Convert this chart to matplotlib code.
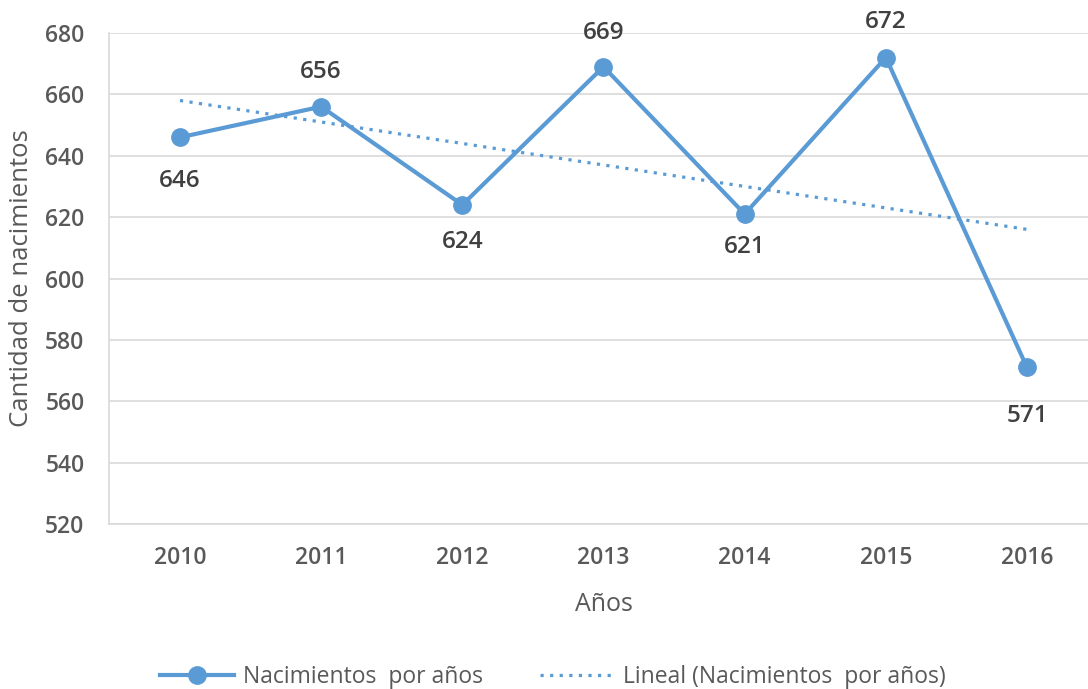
import matplotlib
matplotlib.use("Agg")
import matplotlib.pyplot as plt
import numpy as np

years = ["2010", "2011", "2012", "2013", "2014", "2015", "2016"]
births = [646, 656, 624, 669, 621, 672, 571]
yticks = [520, 540, 560, 580, 600, 620, 640, 660, 680]

# label offsets in pixels (styling): negative = below the point
label_offsets_px = [-44, 35, -37, 34, -33, 36, -49]

plt.rcParams['font.family'] = ['Open Sans', 'DejaVu Sans']

W, H = 1088, 689
DPI = 100
fig = plt.figure(figsize=(W / DPI, H / DPI), dpi=DPI)
ax = fig.add_axes([109.4 / W, 1 - 524 / H, (1097.6 - 109.4) / W, (524 - 33) / H])

color = "#5B9BD5"
x = np.arange(len(years))
ax.plot(x, births, color=color, lw=3, marker="o", ms=12.5, zorder=3,
        label="Nacimientos  por años")

# linear trend
coef = np.polyfit(x, births, 1)
ax.plot(x, np.polyval(coef, x), color=color, lw=2.3, ls=(0, (1, 2.0)), zorder=2,
        label="Lineal (Nacimientos  por años)")

px2pt = 72 / DPI
for xi, v, off in zip(x, births, label_offsets_px):
    ax.annotate(str(v), (xi, v), xytext=(0, off * px2pt), textcoords="offset points",
                ha="center", va="center", fontsize=17.5, fontweight="semibold",
                color="#404040")

ax.set_xlim(-0.5, len(years) - 0.5)
ax.set_ylim(520, 680)
ax.set_yticks(yticks)
ax.set_xticks(x)
ax.set_xticklabels(years)
ax.tick_params(axis="both", length=0, labelsize=16.5, labelcolor="#595959")
ax.tick_params(axis="y", pad=18)
ax.tick_params(axis="x", pad=16)
for lab in ax.get_xticklabels() + ax.get_yticklabels():
    lab.set_fontweight("semibold")
ax.grid(axis="y", color="#D9D9D9", lw=1.2)
ax.set_axisbelow(True)
for s in ["top", "right"]:
    ax.spines[s].set_visible(False)
for s in ["left", "bottom"]:
    ax.spines[s].set_color("#D9D9D9")
    ax.spines[s].set_linewidth(1.2)

ax.set_ylabel("Cantidad de nacimientos", fontsize=18.5, color="#595959", labelpad=8)
ax.set_xlabel("Años", fontsize=18, color="#595959", labelpad=16)

fig.legend(loc="center", bbox_to_anchor=(553 / W, 1 - 677 / H), ncol=2,
           frameon=False, fontsize=16.5, labelcolor="#595959", handlelength=3.2,
           columnspacing=2.5, handletextpad=0.4)

fig.savefig("out.png", dpi=DPI)
